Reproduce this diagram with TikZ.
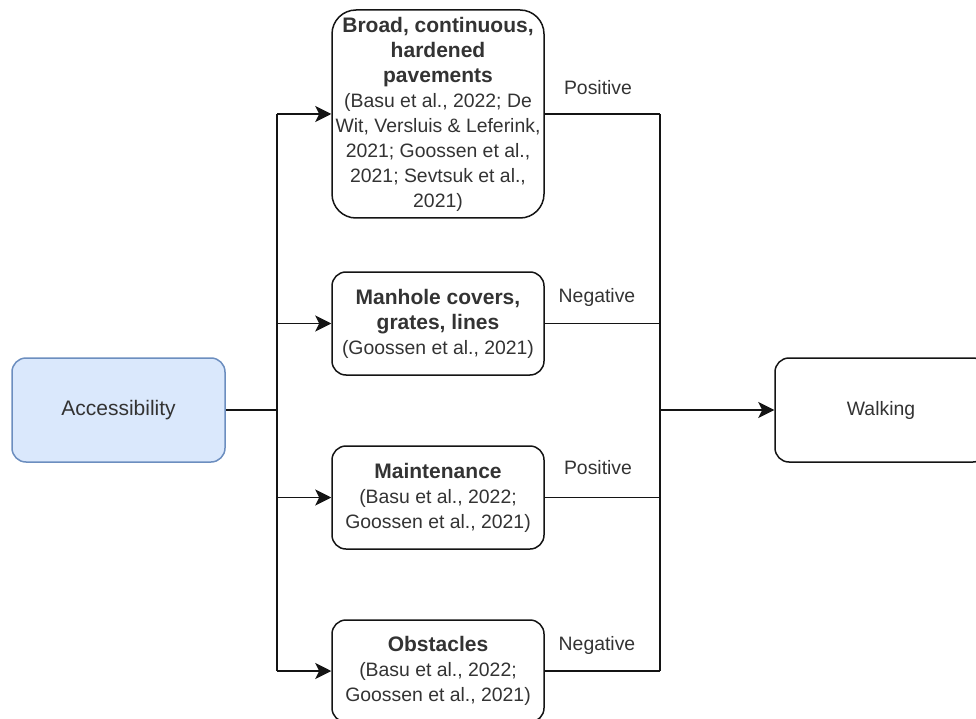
\documentclass[tikz,border=0pt]{standalone}
\usepackage{fontspec}
\setmainfont{Liberation Sans}
\usetikzlibrary{arrows.meta}
\definecolor{txt}{HTML}{333333}
\definecolor{linecol}{HTML}{141414}
\definecolor{bluefill}{HTML}{DAE8FC}
\definecolor{bluedraw}{HTML}{6C8EBF}
\newcommand{\hdline}[1]{{\fontsize{21}{25}\selectfont\bfseries #1}}
\tikzset{
  box/.style={draw=linecol, line width=1.5pt, rounded corners=14pt, fill=white,
    minimum width=212pt, inner sep=0pt, align=center, text=txt,
    font=\fontsize{19.4}{25}\selectfont},
  link/.style={draw=linecol, line width=1.6pt},
  arr/.style={link, -{Stealth[length=16pt,width=16pt,inset=4pt]}},
  effect/.style={text=txt, font=\fontsize{19.4}{23}\selectfont, inner sep=0pt}
}
\begin{document}
\begin{tikzpicture}[x=1pt, y=-1pt]
  \useasboundingbox (0,0) rectangle (976,719);
  \clip (0,0) rectangle (976,719);

  % source factor
  \node[box, draw=bluedraw, fill=bluefill, minimum width=213pt, minimum height=104pt,
        font=\fontsize{21}{25}\selectfont] (acc) at (118.5,410) {Accessibility};

  % pavement features
  \node[box, minimum height=208pt, rounded corners=24pt] (b1) at (438,114)
    {\hdline{Broad, continuous,}\\ \hdline{hardened}\\ \hdline{pavements}\\
     (Basu et al., 2022; De\\ Wit, Versluis \& Leferink,\\ 2021; Goossen et al.,\\
     2021; Sevtsuk et al.,\\ 2021)};
  \node[box, minimum height=103pt] (b2) at (438,323.5)
    {\hdline{Manhole covers,}\\ \hdline{grates, lines}\\ (Goossen et al., 2021)};
  \node[box, minimum height=103pt] (b3) at (438,497.5)
    {\hdline{Maintenance}\\ (Basu et al., 2022;\\ Goossen et al., 2021)};
  \node[box, minimum height=102pt] (b4) at (438,671)
    {\hdline{Obstacles}\\ (Basu et al., 2022;\\ Goossen et al., 2021)};

  % outcome
  \node[box, minimum width=212pt, minimum height=104pt] (walk) at (881,410) {Walking};

  % junctions
  \coordinate (split) at (277,410);
  \coordinate (merge) at (660,410);

  % fan-out from accessibility
  \draw[link] (acc.east) -- (split);
  \draw[link] (split |- b1.west) -- (split |- b4.west);
  \foreach \b in {b1,b2,b3,b4}
    \draw[arr] (split |- \b.west) -- (\b.west);

  % merge into walking
  \draw[link] (merge |- b1.east) -- (merge |- b4.east);
  \foreach \b in {b1,b2,b3,b4}
    \draw[link] (\b.east) -- (merge |- \b.east);
  \draw[arr] (merge) -- (walk.west);

  % effect labels
  \node[effect] (e1) at (598,88) {Positive};
  \node[effect] (e2) at (597,297) {Negative};
  \node[effect] (e3) at (598,468) {Positive};
  \node[effect] (e4) at (597,645) {Negative};
\end{tikzpicture}
\end{document}
